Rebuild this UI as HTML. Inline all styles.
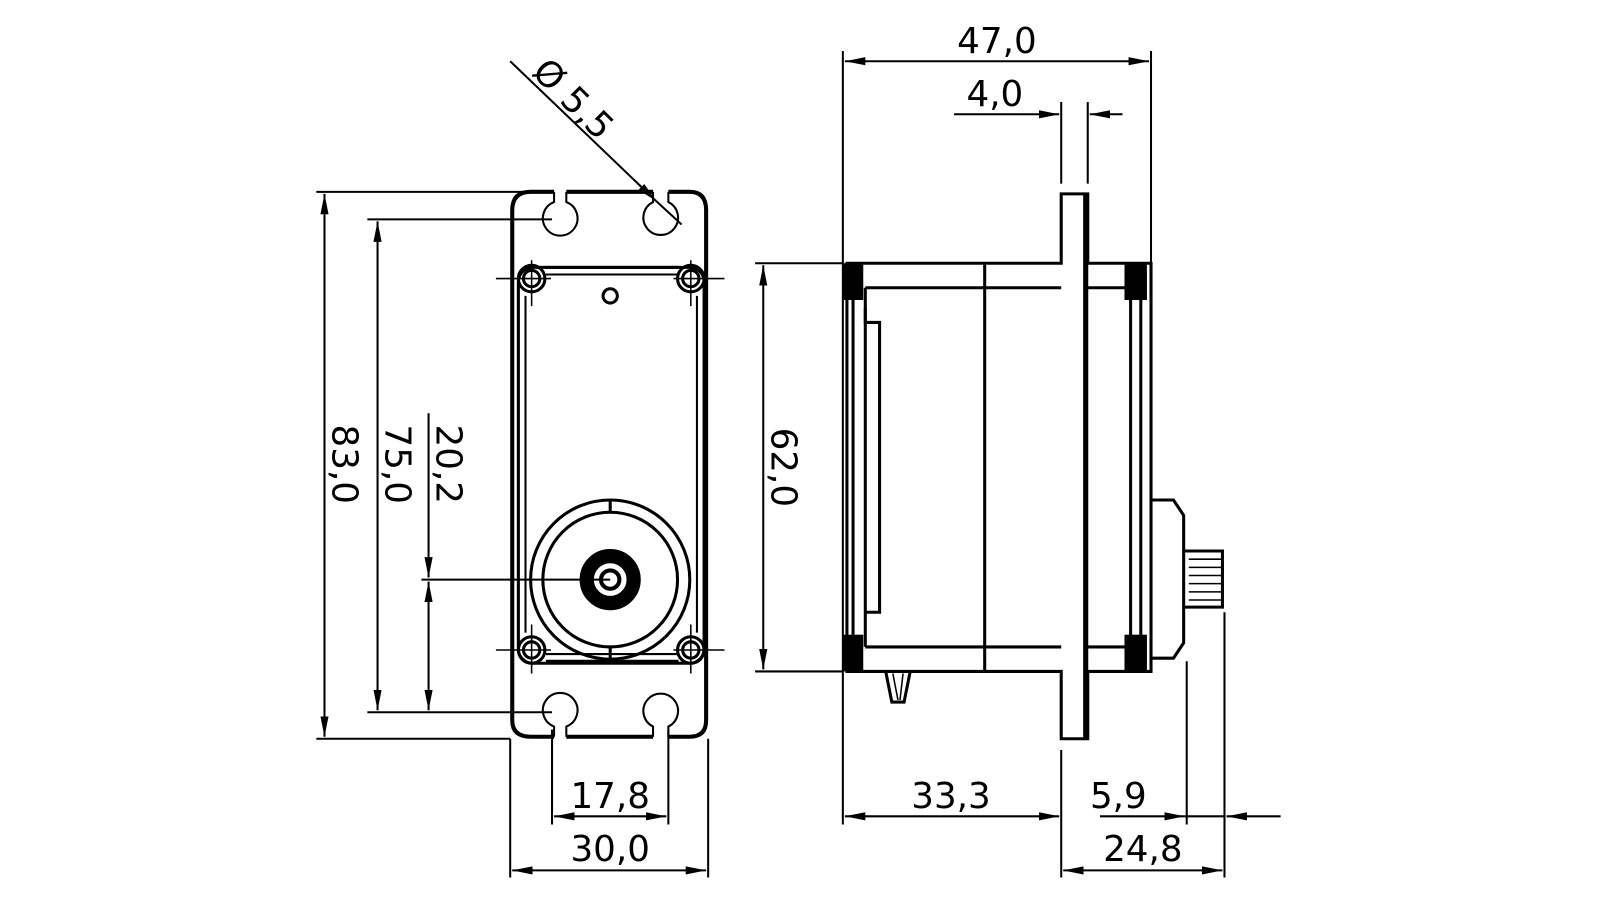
<!DOCTYPE html>
<html><head><meta charset="utf-8"><style>
html,body{margin:0;padding:0;background:#fff}
svg{display:block}
text{font-family:"DejaVu Sans","Liberation Sans",sans-serif;font-size:35px;fill:#000}
</style></head><body>
<svg width="1600" height="900" viewBox="0 0 1600 900" xmlns="http://www.w3.org/2000/svg">
<defs>
<marker id="a" viewBox="0 0 20 8" refX="20" refY="4" markerWidth="20" markerHeight="8" markerUnits="userSpaceOnUse" orient="auto-start-reverse"><path d="M0,0L20,4L0,8z" fill="#000"/></marker>
</defs>
<g transform="scale(1.0204)">
<g fill="none" stroke="#000" stroke-width="2">
<line x1="310" y1="188" x2="540" y2="188"/>
<line x1="310" y1="724" x2="500" y2="724"/>
<line x1="318" y1="190" x2="318" y2="722" marker-start="url(#a)" marker-end="url(#a)"/>
<line x1="360" y1="215" x2="541" y2="215"/>
<line x1="360" y1="698" x2="541" y2="698"/>
<line x1="370" y1="217" x2="370" y2="696" marker-start="url(#a)" marker-end="url(#a)"/>
<line x1="413" y1="568" x2="598" y2="568"/>
<line x1="420" y1="405" x2="420" y2="566" marker-end="url(#a)"/>
<line x1="420" y1="570" x2="420" y2="696" marker-start="url(#a)" marker-end="url(#a)"/>
<line x1="541" y1="715" x2="541" y2="808"/>
<line x1="655" y1="715" x2="655" y2="808"/>
<line x1="543" y1="800" x2="653" y2="800" marker-start="url(#a)" marker-end="url(#a)"/>
<line x1="500" y1="724" x2="500" y2="860"/>
<line x1="694" y1="724" x2="694" y2="860"/>
<line x1="502" y1="853" x2="692" y2="853" marker-start="url(#a)" marker-end="url(#a)"/>
<line x1="500" y1="60" x2="643" y2="197" marker-end="url(#a)"/>
<line x1="643" y1="197" x2="668" y2="220"/>
<path d="M543,188 H520 Q502,188 502,206 V706 Q502,722 520,722 H543 M555,722 H640 M655,722 H676 Q692,722 692,706 V206 Q692,188 676,188 H655 M640,188 H555" stroke-width="4"/>
<path d="M543,188 V198 A17,17 0 1 0 555,198 V188"/>
<path d="M640,188 V198 A17,17 0 1 0 655,198 V188"/>
<path d="M543,722 V712 A17,17 0 1 1 555,712 V722"/>
<path d="M640,722 V712 A17,17 0 1 1 655,712 V722"/>
<rect x="508" y="262" width="182" height="388" rx="14" stroke-width="3"/>
<line x1="535" y1="262" x2="665" y2="262" stroke-width="3"/>
<line x1="535" y1="269" x2="665" y2="269"/>
<line x1="535" y1="648" x2="665" y2="648" stroke-width="3"/>
<line x1="535" y1="641" x2="665" y2="641"/>
<line x1="515" y1="290" x2="515" y2="620"/>
<line x1="683" y1="290" x2="683" y2="620"/>
<circle cx="598" cy="290" r="7" stroke-width="3"/>
<g stroke-width="3">
<circle cx="521" cy="273" r="13"/><circle cx="521" cy="273" r="8"/>
<circle cx="677" cy="273" r="13"/><circle cx="677" cy="273" r="8"/>
<circle cx="521" cy="637" r="13"/><circle cx="521" cy="637" r="8"/>
<circle cx="677" cy="637" r="13"/><circle cx="677" cy="637" r="8"/>
</g>
<path d="M486,273H540M521,255V300M660,273H710M677,255V300M486,637H540M521,612V660M660,637H710M677,612V660" stroke-width="1.5"/>
<circle cx="598" cy="568" r="78" stroke-width="3"/>
<circle cx="598" cy="568" r="66" stroke-width="3"/>
<line x1="598" y1="490" x2="598" y2="502" stroke-width="3"/>
<line x1="598" y1="634" x2="598" y2="646" stroke-width="3"/>
<circle cx="598" cy="568" r="23" stroke-width="14"/>
<circle cx="598" cy="568" r="9" stroke-width="4"/>
<line x1="826" y1="50" x2="826" y2="808"/>
<line x1="1128" y1="50" x2="1128" y2="260"/>
<line x1="828" y1="60" x2="1126" y2="60" marker-start="url(#a)" marker-end="url(#a)"/>
<line x1="1040" y1="100" x2="1040" y2="180"/>
<line x1="1066" y1="100" x2="1066" y2="180"/>
<line x1="935" y1="112" x2="1038" y2="112" marker-end="url(#a)"/>
<line x1="1100" y1="112" x2="1068" y2="112" marker-end="url(#a)"/>
<line x1="740" y1="258" x2="826" y2="258"/>
<line x1="740" y1="658" x2="826" y2="658"/>
<line x1="748" y1="260" x2="748" y2="656" marker-start="url(#a)" marker-end="url(#a)"/>
<line x1="1040" y1="735" x2="1040" y2="860"/>
<line x1="828" y1="800" x2="1038" y2="800" marker-start="url(#a)" marker-end="url(#a)"/>
<line x1="1078" y1="800" x2="1161" y2="800" marker-end="url(#a)"/>
<line x1="1161" y1="800" x2="1200" y2="800"/>
<line x1="1255" y1="800" x2="1202" y2="800" marker-end="url(#a)"/>
<line x1="1163" y1="648" x2="1163" y2="808"/>
<line x1="1200" y1="600" x2="1200" y2="860"/>
<line x1="1042" y1="853" x2="1198" y2="853" marker-start="url(#a)" marker-end="url(#a)"/>
<g stroke-width="3">
<path d="M830,258 H1040 V190 H1066 V258 H1128 V658 H1066 V724 H1040 V658 H830 Z"/>
<line x1="848" y1="282" x2="1040" y2="282"/>
<line x1="1066" y1="282" x2="1108" y2="282"/>
<line x1="848" y1="634" x2="1040" y2="634"/>
<line x1="1066" y1="634" x2="1108" y2="634"/>
<line x1="965" y1="258" x2="965" y2="658"/>
<line x1="848" y1="282" x2="848" y2="634"/>
<line x1="836" y1="294" x2="836" y2="622"/>
<line x1="1108" y1="282" x2="1108" y2="634"/>
<line x1="1118" y1="282" x2="1118" y2="634"/>
<path d="M848,302 V316 H862 V600 H848"/>
<path d="M1064,190V724" stroke-width="5"/>
<path d="M1128,490 H1150 L1160,505 V630 L1150,645 H1128"/>
<path d="M1160,540 H1198 V595 H1160"/>
<path d="M1165,548H1198M1165,556H1198M1165,564H1198M1165,572H1198M1165,580H1198M1165,588H1198" stroke-width="1.5"/>
<path d="M868,658 L874,688 H886 L892,658"/>
<path d="M875,660L880,686M885,660L882,686" stroke-width="1.5"/>
</g>
</g>
<g fill="#000">
<rect x="826" y="258" width="20" height="36"/>
<rect x="826" y="622" width="20" height="36"/>
<rect x="1102" y="258" width="22" height="36"/>
<rect x="1102" y="622" width="22" height="36"/>
</g>
<text transform="translate(326,455) rotate(90)" text-anchor="middle">83,0</text>
<text transform="translate(378,455) rotate(90)" text-anchor="middle">75,0</text>
<text transform="translate(428,455) rotate(90)" text-anchor="middle">20,2</text>
<text transform="translate(756,458) rotate(90)" text-anchor="middle">62,0</text>
<text transform="translate(520,72) rotate(45)">Ø 5,5</text>
<text x="598" y="792" text-anchor="middle">17,8</text>
<text x="598" y="844" text-anchor="middle">30,0</text>
<text x="977" y="52" text-anchor="middle">47,0</text>
<text x="975" y="104" text-anchor="middle">4,0</text>
<text x="932" y="792" text-anchor="middle">33,3</text>
<text x="1096" y="792" text-anchor="middle">5,9</text>
<text x="1120" y="844" text-anchor="middle">24,8</text>
</g>
</svg>
</body></html>
